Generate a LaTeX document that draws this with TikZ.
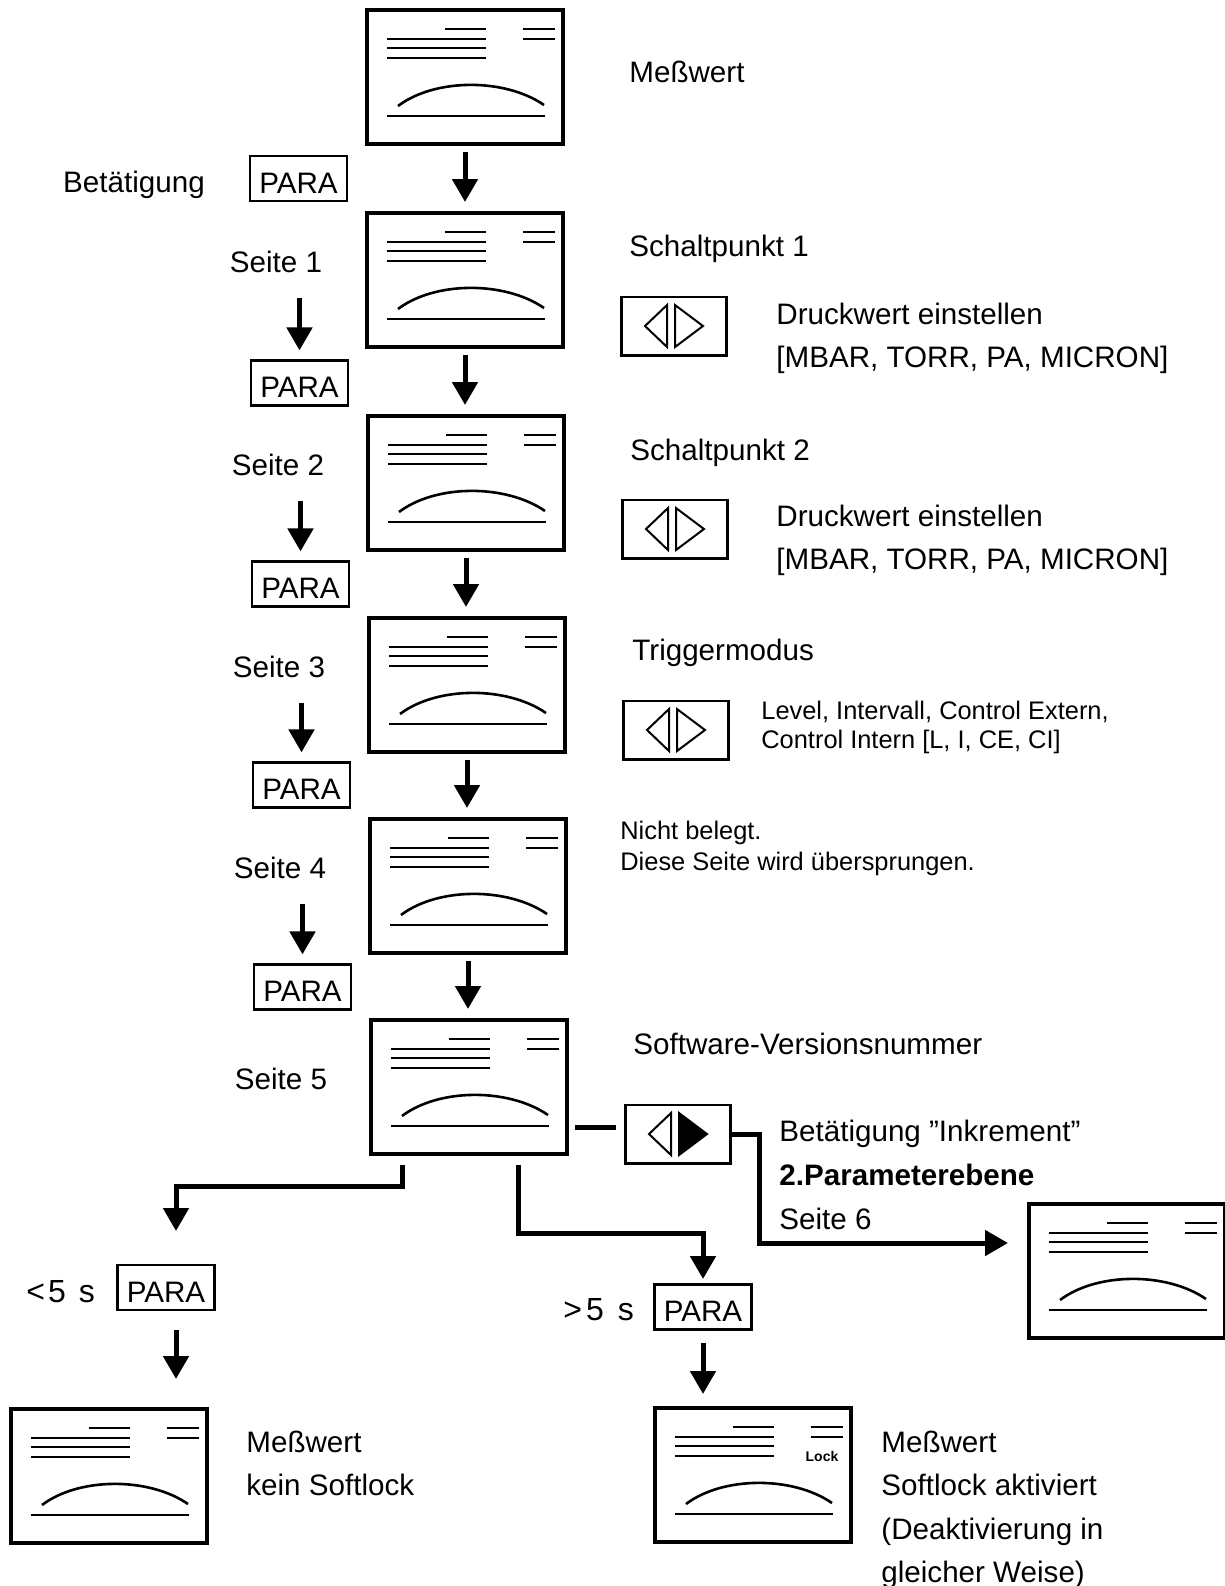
\documentclass[tikz,border=0pt]{standalone}
\usepackage{fontspec}
\setmainfont{Liberation Sans}
\usetikzlibrary{calc,arrows.meta,positioning}

\tikzset{
  display/.style={draw,line width=2.2pt,minimum width=97.8pt,minimum height=66.8pt,inner sep=0pt},
  parakey/.style={draw,line width=1.1pt,minimum width=48.5pt,minimum height=22.5pt,inner sep=0pt,
    text height=14.5pt,text depth=0pt,font=\fontsize{14.8}{17}\selectfont},
  arrowkey/.style={draw,line width=1.3pt,minimum width=52.5pt,minimum height=29.2pt,inner sep=0pt},
  arr/.style={line width=2.5pt,-{Triangle[length=11.5pt,width=12.5pt]}},
  conn/.style={line width=2.5pt},
  lbl/.style={anchor=base west,inner sep=0pt,font=\fontsize{14.8}{17}\selectfont},
  small/.style={anchor=base west,inner sep=0pt,font=\fontsize{12.7}{15}\selectfont},
  seite/.style={anchor=base,inner sep=0pt,font=\fontsize{14.8}{17}\selectfont},
  zeit/.style={anchor=base west,inner sep=0pt,font=\fontsize{16}{18}\selectfont},
  pics/lcd/.style={code={
    \draw[line width=1.2pt] (-20,-48) -- (21,-48) (58,-48) -- (90,-48) (58,-38) -- (90,-38)
      (-78,-38) -- (21,-38) (-78,-29) -- (21,-29) (-78,-19) -- (21,-19)
      (-78,39) -- (80,39);
    \draw[line width=1.3pt] (-67,29) .. controls (-30,1) and (40,1) .. (79,28);
  }},
  pics/keys/.style={code={
    \draw[line width=1pt] (-7,-21) -- (-7,21) -- (-29,0) -- cycle;
    \draw[line width=1pt,fill=#1] (1,-21) -- (1,21) -- (29,0) -- cycle;
  }},
}

\begin{document}
\begin{tikzpicture}[x=0.5pt,y=-0.5pt]
    \useasboundingbox (0,0) rectangle (1225,1586);

    % Anzeigen
    \foreach \n/\x/\y in {s0/465/77, s1/465/280, s2/466/483, s3/467/685, s4/468/886,
        s5/469/1087, s6/1127/1271, sl/109/1476, sr/753/1475}{
        \node[display] (\n) at (\x,\y) {};
        \pic at (\n) {lcd};
    }
    \node[inner sep=0pt,font=\bfseries\fontsize{7}{8}\selectfont] (lock) at ($(sr)+(69,-19)$) {Lock};

    % Tasten
    \node[parakey] (p0) at (298.5,178.5) {PARA};
    \node[parakey] (p1) at (299.5,383) {PARA};
    \node[parakey] (p2) at (300.5,584) {PARA};
    \node[parakey] (p3) at (301.5,785) {PARA};
    \node[parakey] (p4) at (302.5,987) {PARA};
    \node[parakey] (p5) at (166,1287.5) {PARA};
    \node[parakey] (p6) at (703,1307) {PARA};

    \node[arrowkey] (a1) at (674,326) {};
    \node[arrowkey] (a2) at (675,529) {};
    \node[arrowkey] (a3) at (676,730) {};
    \node[arrowkey] (a4) at (678,1134) {};
    \pic at (a1) {keys=white};
    \pic at (a2) {keys=white};
    \pic at (a3) {keys=white};
    \pic at (a4) {keys=black};

    % Seiten
    \node[seite] (l1) at (276,272) {Seite 1};
    \node[seite] (l2) at (278,475) {Seite 2};
    \node[seite] (l3) at (279,677) {Seite 3};
    \node[seite] (l4) at (280,878) {Seite 4};
    \node[seite] (l5) at (281,1089) {Seite 5};
    \node[seite] (bet) at (134,192) {Betätigung};

    \foreach \a/\b in {s0/s1,s1/s2,s2/s3,s3/s4,s4/s5}
        \draw[arr,shorten <=3pt,shorten >=4.5pt] (\a.south) -- (\a.south |- \b.north);
    \foreach \l/\p in {l1/p1,l2/p2,l3/p3,l4/p4}
        \draw[arr,shorten <=12.5pt,shorten >=4.5pt] (\l.south -| \p.north) -- (\p.north);

    % Texte rechts
    \node[lbl] (t0) at (629,82) {Meßwert};
    \node[lbl] (t1) at (629,256) {Schaltpunkt 1};
    \node[lbl] (d1) at (776,324) {Druckwert einstellen};
    \node[lbl] (u1) at (776,367) {[MBAR, TORR, PA, MICRON]};
    \node[lbl] (t2) at (630,460) {Schaltpunkt 2};
    \node[lbl] (d2) at (776,526) {Druckwert einstellen};
    \node[lbl] (u2) at (776,569) {[MBAR, TORR, PA, MICRON]};
    \node[lbl] (t3) at (632,660) {Triggermodus};
    \node[small] (m3) at (761,719) {Level, Intervall, Control Extern,};
    \node[small] (n3) at (761,748) {Control Intern [L, I, CE, CI]};
    \node[small] (t4) at (620,839) {Nicht belegt.};
    \node[small] (v4) at (620,870) {Diese Seite wird übersprungen.};
    \node[lbl] (t5) at (633,1054) {Software-Versionsnummer};
    \node[lbl] (inc) at (779,1141) {Betätigung ''Inkrement''};
    \node[lbl,font=\bfseries\fontsize{14.8}{17}\selectfont] (pe) at (779,1185) {2.Parameterebene};
    \node[lbl] (t6) at (779,1229) {Seite 6};
    \node[zeit] (lt) at (26,1302) {<\hspace{1.5pt}5\hspace{2pt} s};
    \node[zeit] (gt) at (563,1320) {>\hspace{2pt}5\hspace{2.5pt} s};
    \node[lbl] (ml) at (246,1452) {Meßwert};
    \node[lbl] (kl) at (246,1495) {kein Softlock};
    \node[lbl] (mr) at (881,1452) {Meßwert};
    \node[lbl] (sa) at (881,1495) {Softlock aktiviert};
    \node[lbl] (de) at (881,1539) {(Deaktivierung in};
    \node[lbl] (gw) at (881,1582) {gleicher Weise)};

    % Verzweigung unter Seite 5
    \coordinate (k1) at ([yshift=3.5pt]a4.west);
    \coordinate (k2) at (759,1243);
    \coordinate (k3) at (402,1186);
    \coordinate (k4) at (518,1233);
    \coordinate (q5) at (176,1231);
    \draw[conn,shorten <=3pt,shorten >=4pt] (s5.east |- k1) -- (k1);
    \draw[arr,shorten >=9.5pt] (a4.east) -| (k2) -- (k2 -| s6.west);
    \draw[arr,shorten <=4.5pt] (k3 |- s5.south) -- (k3) -| (q5);
    \draw[arr,shorten <=4.5pt,shorten >=2.2pt] (k4 |- s5.south) -- (k4) -| (p6.north);
    \draw[arr,shorten <=9.5pt,shorten >=14pt] (p5.south -| q5) -- (q5 |- sl.north);
    \draw[arr,shorten <=6pt,shorten >=6pt] (p6.south) -- (p6.south |- sr.north);
\end{tikzpicture}
\end{document}
